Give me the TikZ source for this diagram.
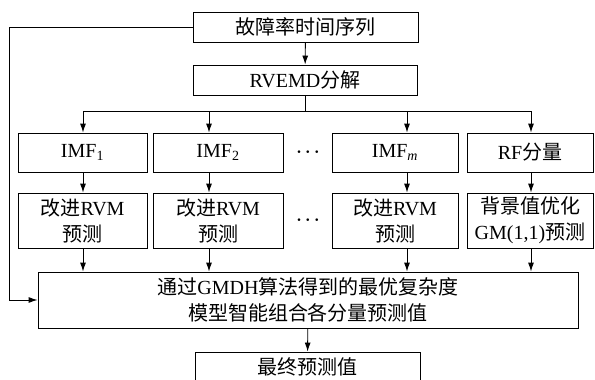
\documentclass[tikz,border=0pt]{standalone}
\usepackage{fontspec}
\setmainfont{Liberation Serif}
\newfontfamily\cjk{Noto Sans CJK SC}
\newcommand{\zh}[1]{{\cjk #1}}
\usetikzlibrary{arrows.meta}
\tikzset{
  blk/.style={draw, line width=0.9pt, inner sep=0pt, align=center, font=\fontsize{20}{26}\selectfont},
  arr/.style={line width=0.9pt, -{Latex[length=9pt,width=6pt]}},
  ln/.style={line width=0.9pt},
  dotsnode/.style={inner sep=0pt, font=\fontsize{17}{17}\selectfont\boldmath}
}
\begin{document}
\begin{tikzpicture}[x=1pt,y=-1pt]
        \useasboundingbox (0,0) rectangle (595,380);

        \node[blk, minimum width=225pt, minimum height=30pt] (src) at (305.5,27) {\zh{故障率时间序列}};
        \node[blk, minimum width=224pt, minimum height=30pt] (dec) at (305,80) {RVEMD\zh{分解}};

        \node[blk, minimum width=129pt, minimum height=39pt] (imf1) at (82.5,152.5) {IMF\textsubscript{1}};
        \node[blk, minimum width=130pt, minimum height=39pt] (imf2) at (218,152.5) {IMF\textsubscript{2}};
        \node[blk, minimum width=126pt, minimum height=39pt] (imfm) at (395,152.5) {IMF\textsubscript{\textit{m}}};
        \node[blk, minimum width=126pt, minimum height=39pt] (rf) at (530,152.5) {RF\zh{分量}};

        \node[blk, minimum width=129pt, minimum height=55pt] (rvm1) at (82.5,220.5) {\zh{改进}RVM\\\zh{预测}};
        \node[blk, minimum width=130pt, minimum height=55pt] (rvm2) at (218,220.5) {\zh{改进}RVM\\\zh{预测}};
        \node[blk, minimum width=126pt, minimum height=55pt] (rvmm) at (395,220.5) {\zh{改进}RVM\\\zh{预测}};
        \node[blk, minimum width=126pt, minimum height=55pt] (gm) at (530,220.5) {\zh{背景值优化}\\GM(1,1)\zh{预测}};

        \node[dotsnode] (d1) at (308,152) {$\cdots$};
        \node[dotsnode] (d2) at (308,220) {$\cdots$};

        \node[blk, minimum width=540pt, minimum height=56pt] (gmdh) at (308,300) {\zh{通过}GMDH\zh{算法得到的最优复杂度}\\\zh{模型智能组合各分量预测值}};
        \node[blk, minimum width=225pt, minimum height=30pt] (out) at (307.5,367) {\zh{最终预测值}};

        \coordinate (b1) at (83,111);
        \coordinate (b2) at (209,111);
        \coordinate (b3) at (407,111);
        \coordinate (b4) at (531,111);
        \coordinate (fb) at (9,27);

        \path[draw,arr] (src) -- (dec);
        \path[draw,ln] (dec.south) -- (dec.south |- b1);
        \path[draw,ln] (b1) -- (b4);
        \path[draw,arr] (b1) -- (b1 |- imf1.north);
        \path[draw,arr] (b2) -- (b2 |- imf2.north);
        \path[draw,arr] (b3) -- (b3 |- imfm.north);
        \path[draw,arr] (b4) -- (b4 |- rf.north);

        \path[draw,arr] (b1 |- imf1.south) -- (b1 |- rvm1.north);
        \path[draw,arr] (b2 |- imf2.south) -- (b2 |- rvm2.north);
        \path[draw,arr] (b3 |- imfm.south) -- (b3 |- rvmm.north);
        \path[draw,arr] (b4 |- rf.south) -- (b4 |- gm.north);

        \path[draw,arr] (b1 |- rvm1.south) -- (b1 |- gmdh.north);
        \path[draw,arr] (b2 |- rvm2.south) -- (b2 |- gmdh.north);
        \path[draw,arr] (b3 |- rvmm.south) -- (b3 |- gmdh.north);
        \path[draw,arr] (b4 |- gm.south) -- (b4 |- gmdh.north);

        \path[draw,arr] (src.west) -- (fb) |- (gmdh.west);
        \path[draw,arr] (gmdh) -- (out);
\end{tikzpicture}
\end{document}
